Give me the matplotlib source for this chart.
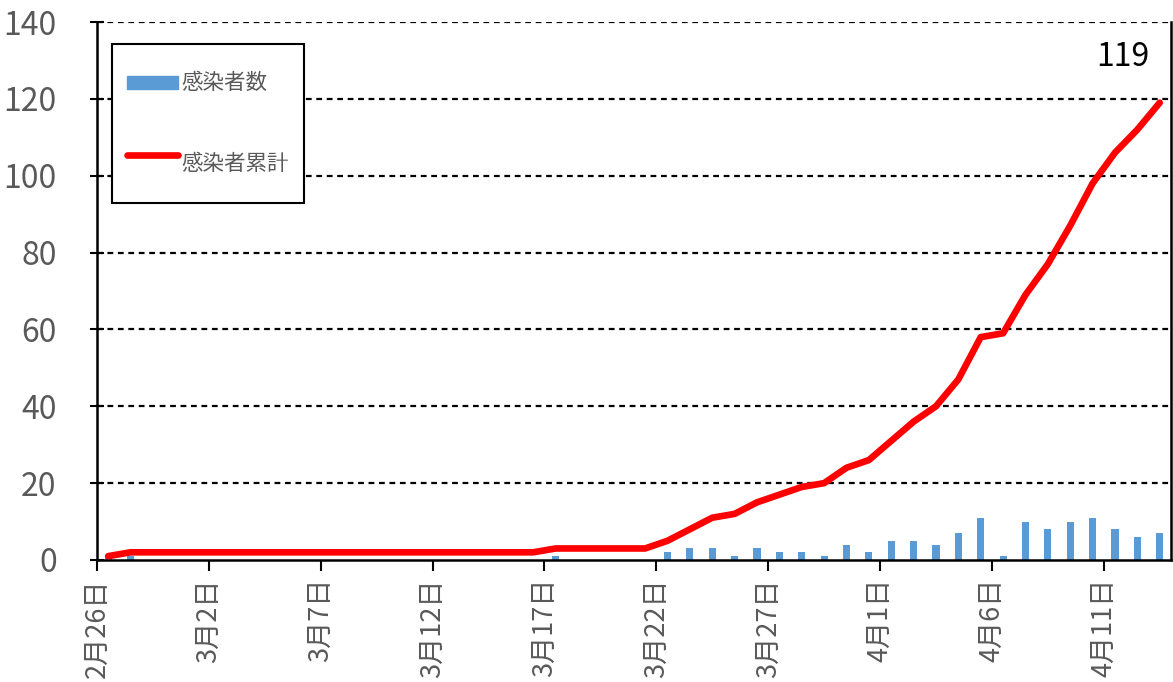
import numpy as np
import pandas as pd
import matplotlib
matplotlib.use("Agg")
import matplotlib.pyplot as plt
from matplotlib.patches import Patch
from matplotlib.lines import Line2D

plt.rcParams['font.family'] = ['Noto Sans CJK JP', 'DejaVu Sans']

# 2/26 .. 4/13
dates = pd.date_range("2020-02-26", "2020-04-13")
date_labels = [f"{d.month}月{d.day}日" for d in dates]

# daily new cases
daily = [1, 1, 0, 0, 0, 0, 0, 0, 0, 0,
         0, 0, 0, 0, 0, 0, 0, 0, 0, 0,
         1, 0, 0, 0, 0, 2, 3, 3, 1, 3,
         2, 2, 1, 4, 2, 5, 5, 4, 7, 11,
         1, 10, 8, 10, 11, 8, 6, 7]

# cumulative
cumulative = [1, 2, 2, 2, 2, 2, 2, 2, 2, 2,
              2, 2, 2, 2, 2, 2, 2, 2, 2, 2,
              3, 3, 3, 3, 3, 5, 8, 11, 12, 15,
              17, 19, 20, 24, 26, 31, 36, 40, 47, 58,
              59, 69, 77, 87, 98, 106, 112, 119]

x = np.arange(len(dates))
gray = '#595959'

fig = plt.figure(figsize=(11.73, 6.82), dpi=100)
ax = fig.add_axes([0.0827, 0.1789, 0.9155, 0.7888])

bars = ax.bar(x, daily, width=0.32, color='#5B9BD5', zorder=2)
line, = ax.plot(x, cumulative, color='#FF0000', lw=4.8, zorder=3,
                solid_capstyle='round', solid_joinstyle='round')

ax.set_xlim(-0.5, len(dates) - 0.5)
ax.set_ylim(0, 140)
ax.set_yticks(np.arange(0, 141, 20))
for yv in range(20, 141, 20):
    ax.axhline(yv, color='black', lw=1.6, ls=(0, (2.6, 2.1)), zorder=1)

ax.set_xticks(x[::5] - 0.5)
ax.set_xticklabels(date_labels[::5], rotation=90, fontsize=19.5, color=gray)
ax.tick_params(axis='x', direction='out', length=8, width=1.5, pad=5)
ax.tick_params(axis='y', direction='inout', length=10, width=1.5,
               labelsize=23, labelcolor=gray, pad=24)
for lab in ax.get_xticklabels():
    lab.set_verticalalignment('top')

for s in ['left', 'bottom', 'right']:
    ax.spines[s].set_linewidth(1.8)
    ax.spines[s].set_color('black')
ax.spines['top'].set_visible(False)

ax.text(x[-1] - 0.45, 131, str(cumulative[-1]), fontsize=23,
        ha='right', va='center', color='black')

handles = [Patch(color='#5B9BD5'), Line2D([], [], color='#FF0000', lw=4.8,
                                          solid_capstyle='round')]
leg = ax.legend(handles, ['感染者数', '感染者累計'], loc='upper left',
                bbox_to_anchor=(0.0135, 0.96), fontsize=15.5, labelcolor=gray,
                fancybox=False, edgecolor='black', framealpha=1,
                labelspacing=1.6, borderpad=0.7, handlelength=2.4,
                handleheight=3.0, handletextpad=0.15, borderaxespad=0)
leg.get_frame().set_linewidth(1.5)
# keep the blue patch thin like the original
p = leg.legend_handles[0]
h = p.get_height()
p.set_y(p.get_y() + h * 0.36)
p.set_height(h * 0.28)

fig.savefig("out.png", dpi=100)
